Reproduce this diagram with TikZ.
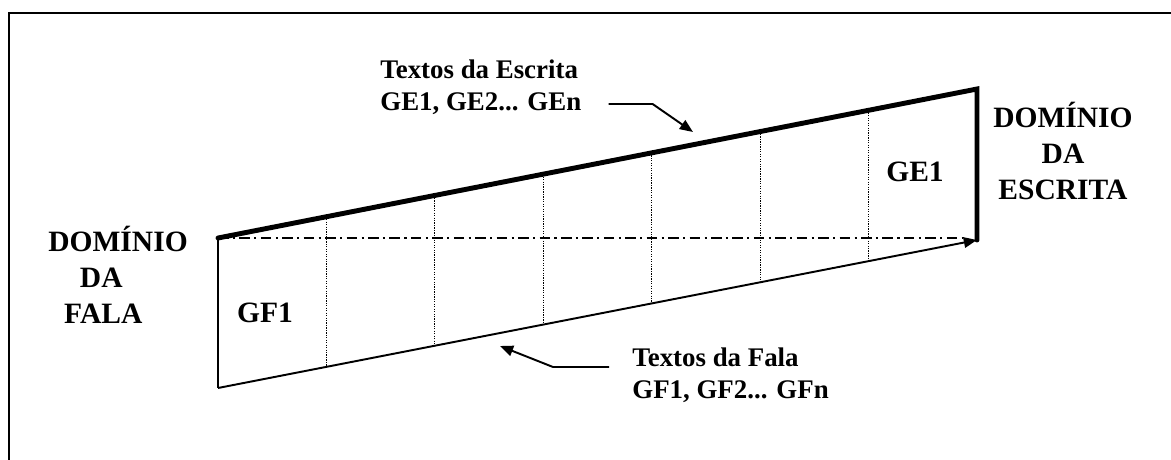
\documentclass[tikz,border=0pt]{standalone}
\usepackage{fontspec}
\setmainfont{Liberation Serif}
\usetikzlibrary{arrows.meta,calc}
\begin{document}
\begin{tikzpicture}[x=0.02cm,y=-0.02cm,
  dominio/.style={font=\fontsize{16.8}{20.4}\selectfont\bfseries,inner sep=0},
  rotulo/.style={font=\fontsize{15.3}{18.2}\selectfont\bfseries,inner sep=0,align=left},
  seta/.style={line width=1.1pt,-{Triangle[length=7.5pt,width=6pt]}}]
  \useasboundingbox (0,0) rectangle (1171,460);
  \draw[line width=1.2pt] (9,460)--(9,13)--(1171,13);
  % the slanted strip
  \coordinate (tl) at (218,238);
  \coordinate (tr) at (977,89);
  \coordinate (bl) at (218,388);
  \coordinate (br) at (977,240);
  \foreach \k in {1,...,6}
    \draw[line width=.6pt,dash pattern=on .7pt off .7pt]
      ($(tl)!\k/7!(tr)$)--($(bl)!\k/7!(br)$);
  \draw[line width=.7pt,dash pattern=on 6pt off 2.5pt on 1.2pt off 2.5pt]
    (tl)--(963,238);
  \draw[line width=1.2pt] (tl)--(bl);
  \draw[line width=2.8pt,line cap=round] (tl)--(tr)--(br);
  \draw[seta] (bl)--(br);
  \node[dominio] (gf) at (265,313) {GF1};
  \node[dominio] (ge) at (915,172) {GE1};
  \node[dominio,align=left,anchor=base west] (fala) at (48,323)
    {DOMÍNIO\\\hspace*{18pt}DA\\\hspace*{9pt}FALA};
  \node[dominio,align=center,anchor=base] (escrita) at (1063,199)
    {DOMÍNIO\\DA\\ESCRITA};
  \node[rotulo,anchor=base west] (txtesc) at (380,110)
    {Textos da Escrita\\GE1, GE2... GEn};
  \node[rotulo,anchor=base west] (txtfal) at (632,398)
    {Textos da Fala\\GF1, GF2... GFn};
  % pointers
  \coordinate (pesc) at (693,132);
  \coordinate (pfal) at (500,346);
  \draw[seta] ($(txtesc.base east)+(27,-6)$) -- ++(44,0) -- (pesc);
  \draw[seta] ($(txtfal.base west)+(-23,-31)$) -- ++(-56,0) -- (pfal);
\end{tikzpicture}
\end{document}
